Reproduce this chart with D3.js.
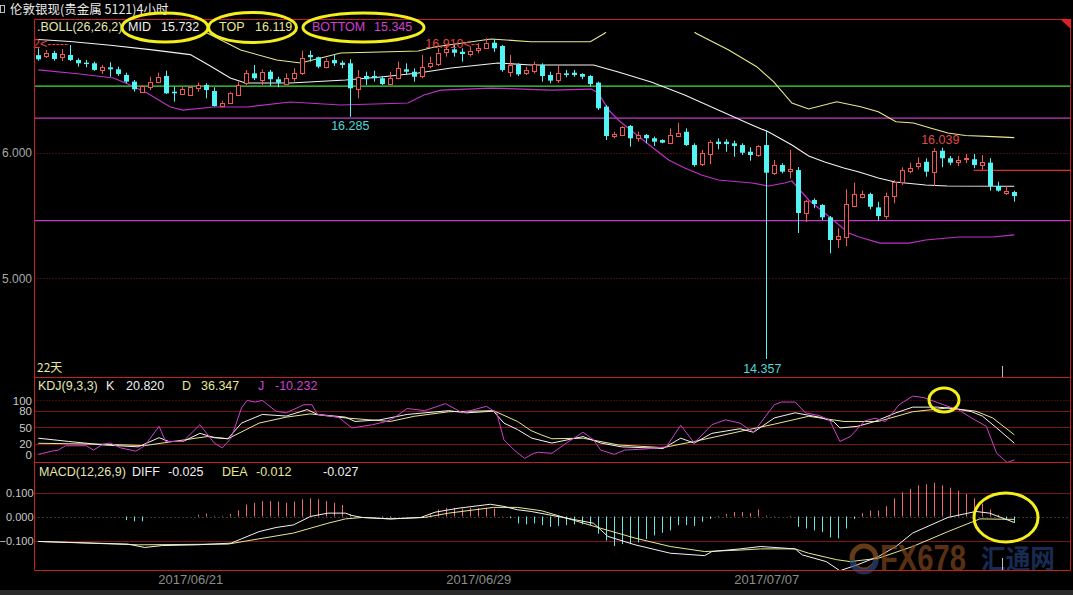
<!DOCTYPE html>
<html><head><meta charset="utf-8">
<script src="https://cdn.jsdelivr.net/npm/d3@7"></script>
<style>
html,body{margin:0;padding:0;background:#000;overflow:hidden;}
svg{display:block;}
text{font-family:"Liberation Sans",Arial,sans-serif;}
</style></head><body>
<svg id="c" width="1073" height="595"></svg>
<script>
// ---------------- DATA ----------------
const titleText = "伦敦银现(贵金属 5121)4小时";
// candles: [open, high, low, close] per 4h bar
const candles = [
[16.776,16.830,16.731,16.743],[16.769,16.817,16.753,16.795],[16.793,16.811,16.732,16.745],[16.761,16.825,16.729,16.785],
[16.777,16.857,16.729,16.737],[16.737,16.751,16.684,16.711],[16.716,16.737,16.679,16.705],[16.711,16.724,16.652,16.658],
[16.652,16.698,16.626,16.679],[16.679,16.719,16.604,16.663],[16.663,16.684,16.610,16.626],[16.618,16.636,16.552,16.565],
[16.565,16.578,16.485,16.504],[16.485,16.538,16.477,16.530],[16.525,16.604,16.498,16.565],[16.565,16.636,16.552,16.604],
[16.610,16.652,16.467,16.472],[16.485,16.525,16.405,16.472],[16.467,16.525,16.459,16.504],[16.459,16.530,16.451,16.525],
[16.512,16.557,16.485,16.538],[16.538,16.552,16.432,16.498],[16.490,16.520,16.366,16.371],[16.371,16.413,16.361,16.397],
[16.397,16.485,16.387,16.477],[16.459,16.565,16.451,16.538],[16.552,16.658,16.538,16.631],[16.631,16.698,16.578,16.592],
[16.584,16.663,16.538,16.644],[16.644,16.658,16.530,16.584],[16.584,16.604,16.520,16.557],[16.552,16.631,16.538,16.596],
[16.594,16.671,16.565,16.634],[16.631,16.811,16.618,16.751],[16.777,16.811,16.724,16.759],[16.759,16.764,16.671,16.684],
[16.684,16.751,16.671,16.732],[16.737,16.785,16.690,16.711],[16.716,16.732,16.671,16.698],[16.711,16.743,16.285,16.512],
[16.512,16.658,16.432,16.604],[16.610,16.644,16.538,16.584],[16.610,16.652,16.565,16.592],[16.592,16.610,16.538,16.546],
[16.546,16.644,16.538,16.592],[16.592,16.724,16.584,16.671],[16.663,16.711,16.618,16.644],[16.644,16.671,16.565,16.604],
[16.604,16.777,16.592,16.679],[16.690,16.764,16.671,16.716],[16.705,16.830,16.690,16.795],[16.795,16.857,16.764,16.822],
[16.822,16.857,16.764,16.795],[16.803,16.830,16.724,16.785],[16.785,16.843,16.764,16.811],[16.811,16.870,16.790,16.830],
[16.838,16.910,16.830,16.875],[16.875,16.905,16.803,16.830],[16.849,16.857,16.644,16.658],[16.644,16.777,16.604,16.698],
[16.698,16.711,16.610,16.623],[16.631,16.684,16.618,16.658],[16.644,16.724,16.631,16.703],[16.698,16.711,16.565,16.610],
[16.618,16.644,16.552,16.573],[16.573,16.698,16.554,16.631],[16.631,16.658,16.600,16.618],[16.636,16.658,16.604,16.618],
[16.626,16.631,16.584,16.604],[16.610,16.618,16.525,16.546],[16.557,16.565,16.339,16.353],[16.366,16.379,16.100,16.132],
[16.132,16.166,16.114,16.148],[16.140,16.212,16.132,16.206],[16.212,16.220,16.047,16.114],[16.114,16.166,16.087,16.140],
[16.140,16.148,16.074,16.114],[16.114,16.127,16.053,16.087],[16.100,16.106,16.074,16.079],[16.079,16.193,16.074,16.140],
[16.132,16.238,16.127,16.158],[16.166,16.193,16.053,16.060],[16.060,16.074,15.888,15.901],[15.909,16.021,15.893,15.994],
[15.994,16.100,15.909,16.087],[16.087,16.114,16.026,16.068],[16.087,16.106,16.007,16.068],[16.074,16.095,15.967,16.053],
[16.060,16.074,15.981,15.999],[16.007,16.042,15.935,15.981],[15.981,16.060,15.967,16.053],[16.060,16.180,14.357,15.840],
[15.840,15.941,15.822,15.901],[15.901,15.915,15.835,15.848],[15.854,16.021,15.795,15.867],[15.861,15.885,15.360,15.519],
[15.519,15.623,15.447,15.615],[15.623,15.636,15.557,15.591],[15.583,15.591,15.463,15.485],[15.485,15.495,15.198,15.304],
[15.310,15.397,15.240,15.336],[15.330,15.708,15.256,15.591],[15.575,15.760,15.565,15.670],[15.649,15.697,15.636,15.670],
[15.670,15.681,15.548,15.569],[15.564,15.609,15.458,15.495],[15.495,15.681,15.469,15.654],[15.654,15.782,15.596,15.768],
[15.768,15.883,15.742,15.861],[15.856,15.920,15.835,15.876],[15.888,15.962,15.867,15.915],[15.927,15.954,15.808,15.848],
[15.848,16.034,15.734,16.015],[16.015,16.039,15.883,15.955],[15.955,15.973,15.901,15.920],[15.928,15.973,15.893,15.941],
[15.947,15.989,15.915,15.955],[15.947,15.989,15.875,15.901],[15.901,15.981,15.861,15.927],[15.920,15.955,15.697,15.734],
[15.734,15.768,15.689,15.697],[15.678,15.734,15.663,15.694],[15.686,15.697,15.609,15.654]
];
// BOLL lines: [bar index, price]
const bollMid = [[0,16.90],[4,16.885],[9,16.855],[14,16.82],[19,16.78],[21.5,16.69],[24,16.594],[25.9,16.554],[31.5,16.554],
[38.4,16.578],[42.8,16.602],[47.5,16.634],[51.6,16.674],[57.5,16.713],[61.6,16.698],[69.4,16.698],[72.5,16.642],[76.6,16.562],
[80.8,16.459],[85,16.339],[89.2,16.220],[91.3,16.164],[94.2,16.060],[96.3,15.973],[98.3,15.925],[100.7,15.877],[102.6,15.846],
[105,15.798],[107.1,15.766],[110.9,15.742],[113.6,15.734],[122,15.732]];
const bollTop = [[20.3,16.976],[21.1,16.952],[25.3,16.817],[29.8,16.737],[32.8,16.713],[37.8,16.793],[47.5,16.809],[49.5,16.841],
[56.6,16.905],[61.6,16.883],[69,16.883],[70.8,16.950],[71.6,17.016],null,[81.5,17.00],[82.2,16.950],[86.3,16.817],[89.8,16.684],
[91.9,16.565],[94.2,16.395],[96.3,16.347],[99.8,16.405],[102.8,16.365],[105,16.326],[107.2,16.246],[109.4,16.236],[111.5,16.196],
[113.7,16.156],[115.9,16.136],[119.3,16.127],[122,16.119]];
const bollBot = [[0,16.658],[5.2,16.626],[9.4,16.594],[11.5,16.538],[13.6,16.475],[16.5,16.363],[18.1,16.339],[21.9,16.363],
[26.1,16.363],[31.5,16.403],[37.8,16.379],[46.2,16.395],[48.2,16.459],[50.3,16.498],[56.6,16.514],[64.1,16.498],[69.1,16.506],
[70,16.475],[71.3,16.339],[72.5,16.260],[74.5,16.156],[76.7,16.045],[78.8,15.941],[80.8,15.877],[82.9,15.822],[85,15.782],
[89.2,15.758],[91.3,15.734],[93.3,15.758],[94.2,15.774],[96.3,15.623],[99.2,15.471],[101.3,15.360],[102.6,15.328],[105.2,15.280],
[108.9,15.280],[110.9,15.304],[115.1,15.328],[119.3,15.328],[122,15.345]];
const bollLegend = {mid:"15.732", top:"16.119", bottom:"15.345"};
// horizontal drawn levels
const levelPrices = [16.530, 16.275, 15.459];
const redLevel = {price:15.858, fromBar:116.9};
const priceTicks = [16, 15];
// extreme labels
const markHigh = {bar:56, price:16.910};
const markLow1 = {bar:39, price:16.285};
const markLow2 = {bar:91, price:14.357};
const markHigh2 = {bar:113, price:16.039};
// KDJ [bar, value]
const kdjK = [[0,30],[3.8,24],[8.1,17.5],[12.5,14],[15.1,31],[16.3,24],[18.1,24],[20.2,39],[22,31],[23.7,29],[25.4,58],[28,74],
[31,71],[33.6,83],[34.9,74],[38.4,69],[39.6,61],[42.7,64],[46.1,74],[51.3,81],[53.5,77],[56.9,80],[58.2,58],[59.9,46],[61.7,30],
[64.2,21],[68.1,33],[70.3,21],[72.9,14],[78.1,11],[80.3,30],[82,21],[84.2,39],[87.7,47.5],[89.4,41],[92,67.5],[94.6,77],[97.6,69],
[99.4,61],[100.2,49],[102.4,52],[104.6,61],[107.2,77],[109.3,87.5],[112.4,87.5],[114.5,85],[116.7,79],[118,71],[119.8,49],[122,20.82]];
const kdjD = [[0,20.6],[8.1,18.8],[13.3,16.3],[16.8,23.8],[21.1,33],[23.7,29],[27.6,58],[31,69],[34,75],[38.4,67.5],[44,61],[47,70.6],
[51.3,79],[56.9,81],[59.9,61],[61.6,44],[62.9,36],[64.2,29],[68.1,30],[72.5,17.5],[78.1,12.5],[82,24],[87.7,42.5],[92,56],[96.3,70.6],
[100.7,61],[105,61],[109.3,79],[113.7,86],[117.2,80],[119.3,67.5],[122,36.35]];
const kdjJ = [[0,0],[1.7,6],[2.5,8],[3.4,16],[6,16],[6.9,8],[8.1,19],[9,21],[10.3,12],[12.2,6],[13.3,16],[15.1,52],[15.9,24],[18.1,24],
[20.2,55],[22,21],[23,12],[24.1,30],[25.4,86],[26.1,100],[27.1,97],[28,100],[29.7,80],[31,77],[33.2,92],[34.2,92],[34.9,74],[37.5,69],
[39.2,49],[41.8,55],[43.5,61],[44.4,67],[46.1,85],[48.3,81],[50.9,94],[53,77],[56,89],[57.3,77],[58.2,27],[59.5,8],[60.8,-7.5],[61.9,2],
[62.5,4],[64.2,2],[66,21],[68.1,41],[69.4,27],[70.3,8],[72,0],[73.3,8],[75.9,10],[78.5,14],[80.3,54],[82,21],[84.2,55],[85.9,64],
[87.7,58],[89.4,41],[92,92],[92.9,97],[94.6,97],[95.9,77],[97.6,72],[98.9,64],[100.2,24],[101.5,33],[103.3,62],[104.6,67],[105.9,61],
[107.6,92],[109.3,108],[110.7,105],[112.4,96],[113.7,89],[115,83],[116.7,67],[118.5,52],[119.8,2],[121.1,-15],[122,-10.23]];
const kdjTicks = [100, 80, 50, 20, 0];
const kdjLegend = {K:"20.820", D:"36.347", J:"-10.232"};
// MACD
const macdHist = [0,0,0,0,0,0,0,0,0,0,0,-0.015,-0.02,-0.02,0,0,0,0,0,0,
0.008,0.012,0.003,0.003,0.01,0.026,0.05,0.057,0.064,0.064,0.062,0.057,0.062,0.072,0.076,0.072,0.064,0.057,0.048,0.01,
0.002,0,0,-0.004,-0.004,0,0,0,0.002,0.01,0.029,0.036,0.036,0.033,0.036,0.036,0.036,0.033,0.002,-0.007,
-0.029,-0.033,-0.029,-0.036,-0.043,-0.039,-0.036,-0.033,-0.033,-0.036,-0.072,-0.101,-0.123,-0.115,-0.115,-0.108,-0.094,-0.079,-0.068,-0.058,
-0.036,-0.036,-0.039,-0.022,-0.01,-0.002,0.01,0.019,0.019,0.014,0.029,0.004,0.002,0.001,-0.002,-0.043,-0.05,-0.058,-0.065,-0.087,
-0.091,-0.05,-0.01,0.014,0.025,0.025,0.043,0.076,0.101,0.115,0.13,0.134,0.14,0.13,0.12,0.108,0.094,0.076,0.053,0.029,
0.007,-0.01,-0.027];
const macdDiff = [[0,-0.104],[11.2,-0.115],[13.3,-0.129],[15.5,-0.121],[19.8,-0.118],[24.1,-0.111],[25.4,-0.093],[27.6,-0.063],
[29.7,-0.046],[31.9,-0.035],[34,0],[36.2,0.014],[38.4,0.014],[39.2,0.004],[40.5,-0.004],[44,-0.01],[47.8,-0.004],[49.6,0.018],
[52.6,0.035],[56.5,0.051],[58.2,0.042],[59.9,0.028],[61.6,0.021],[69.4,-0.028],[71.2,-0.083],[74.6,-0.118],[79,-0.153],[83.3,-0.163],
[84.2,-0.146],[87.7,-0.135],[90.3,-0.125],[94.6,-0.135],[95.5,-0.16],[98.5,-0.188],[100.2,-0.226],[102.4,-0.201],[105,-0.167],
[107.2,-0.125],[109.3,-0.069],[113.7,-0.004],[117.2,0.021],[118.9,0.014],[122,-0.025]];
const macdDea = [[0,-0.104],[12.5,-0.118],[23.7,-0.115],[27.6,-0.093],[31.9,-0.069],[36.2,-0.028],[38.4,-0.01],[40.5,-0.004],[44,-0.01],
[48.3,-0.004],[51.3,0.014],[56.9,0.038],[59.9,0.038],[62.9,0.024],[70.3,-0.049],[74.6,-0.09],[79,-0.125],[83.3,-0.146],[87.7,-0.14],
[90.3,-0.135],[94.6,-0.135],[96.3,-0.153],[99.8,-0.18],[101.5,-0.188],[105,-0.174],[109.3,-0.125],[113.7,-0.063],[117.7,-0.01],[122,-0.012]];
const macdTicks = [0.1, 0, -0.1];
const macdLegend = {DIFF:"-0.025", DEA:"-0.012", MACD:"-0.027"};
// dates
const dateBars = [19, 55, 91];
const dateLabels = ["2017/06/21","2017/06/29","2017/07/07"];

// ---------------- STYLE / LAYOUT ----------------
const W=1073, H=595;
const L=34.5, R=1070.5, T=19.5, mainBot=377.5, kdjBot=462.5, macdBot=570.5;
const C_RED="#f25757", C_CYAN="#55f4f4", C_BORDER="#c81e1e", C_GRID="#7a1616";
const C_YEL="#e8e890", C_MAG="#d040d0", C_WHITE="#f2f2f2", C_GREEN="#3fe03f";

const svg=d3.select("#c");
svg.append("rect").attr("width",W).attr("height",H).attr("fill","#000");
svg.append("rect").attr("x",0).attr("y",590).attr("width",W).attr("height",5).attr("fill","#2a2a2a");

const x=d3.scaleLinear().domain([0,122]).range([38.3,1014.3]);
const yP=d3.scaleLinear().domain([15,16]).range([278.2,152.6]);
const yK=d3.scaleLinear().domain([0,100]).range([454.4,400.4]);
const yM=d3.scaleLinear().domain([-0.1,0.1]).range([540.5,492.5]);

const defs=svg.append("defs");
function clip(id,x0,y0,x1,y1){defs.append("clipPath").attr("id",id).append("rect").attr("x",x0).attr("y",y0).attr("width",x1-x0).attr("height",y1-y0);}
clip("cMain",35,32,1070,377);
clip("cKdj",35,378,1070,462.5);
clip("cMacd",35,463,1070,570);

// ---- grids ----
const grid=svg.append("g");
priceTicks.forEach(p=>grid.append("line").attr("x1",L).attr("x2",R).attr("y1",Math.round(yP(p))+0.5).attr("y2",Math.round(yP(p))+0.5)
  .attr("stroke","#8a1a1a").attr("stroke-dasharray","1,2"));
kdjTicks.forEach(v=>grid.append("line").attr("x1",L).attr("x2",R).attr("y1",Math.round(yK(v))+0.5).attr("y2",Math.round(yK(v))+0.5)
  .attr("stroke",C_GRID).attr("stroke-dasharray",(v===100||v===0)?"1,2":null));
macdTicks.forEach(v=>grid.append("line").attr("x1",L).attr("x2",R).attr("y1",Math.round(yM(v))+0.5).attr("y2",Math.round(yM(v))+0.5)
  .attr("stroke",v===0?"#6a6a6a":C_GRID).attr("stroke-dasharray",v===0?"1,3":null));

// ---- horizontal levels ----
const lvColors=[C_GREEN,"#c23cc2","#c23cc2"];
levelPrices.forEach((p,i)=>svg.append("line").attr("x1",L).attr("x2",R).attr("y1",yP(p)).attr("y2",yP(p))
  .attr("stroke",lvColors[i]).attr("stroke-width",1.3));
svg.append("line").attr("x1",x(redLevel.fromBar)).attr("x2",R).attr("y1",yP(redLevel.price)).attr("y2",yP(redLevel.price))
  .attr("stroke","#d83030").attr("stroke-width",1.3);

// ---- BOLL lines ----
const gm=svg.append("g").attr("clip-path","url(#cMain)");
const lineP=d3.line().defined(d=>d!=null).x(d=>x(d[0])).y(d=>yP(d[1]));
gm.append("path").attr("d",lineP(bollTop)).attr("fill","none").attr("stroke",C_YEL).attr("stroke-width",1.1);
gm.append("path").attr("d",lineP(bollMid)).attr("fill","none").attr("stroke",C_WHITE).attr("stroke-width",1.1);
gm.append("path").attr("d",lineP(bollBot)).attr("fill","none").attr("stroke","#c030c8").attr("stroke-width",1.2);

// ---- candles ----
candles.forEach((d,i)=>{
  const [o,h,l,c]=d; const px=Math.round(x(i)); const cx=px+0.5;
  const up=c>=o; const col=up?C_RED:C_CYAN;
  const yt=yP(Math.max(o,c)), yb=yP(Math.min(o,c));
  if(up){
    gm.append("line").attr("x1",cx).attr("x2",cx).attr("y1",yP(h)).attr("y2",yt).attr("stroke",col);
    gm.append("line").attr("x1",cx).attr("x2",cx).attr("y1",yb).attr("y2",yP(l)).attr("stroke",col);
    gm.append("rect").attr("x",px-1.5).attr("y",Math.round(yt)+0.5).attr("width",4).attr("height",Math.max(1,Math.round(yb-yt)))
      .attr("fill","#000").attr("stroke",col);
  } else {
    gm.append("line").attr("x1",cx).attr("x2",cx).attr("y1",yP(h)).attr("y2",yP(l)).attr("stroke",col);
    gm.append("rect").attr("x",px-2).attr("y",yt).attr("width",5).attr("height",Math.max(1.2,yb-yt)).attr("fill",col);
  }
});

// ---- extreme labels ----
const lab=svg.append("g").style("font-size","12.5px");
lab.append("text").attr("x",x(markLow1.bar)).attr("y",yP(markLow1.price)+13).attr("text-anchor","middle").attr("fill","#4fd6d6").text(markLow1.price.toFixed(3));
lab.append("text").attr("x",x(markLow2.bar)-4).attr("y",yP(markLow2.price)+14).attr("text-anchor","middle").attr("fill","#4fd6d6").text(markLow2.price.toFixed(3));
lab.append("text").attr("x",x(markHigh2.bar)-2).attr("y",yP(markHigh2.price)-4).attr("text-anchor","middle").attr("fill","#e04848").text(markHigh2.price.toFixed(3));
lab.append("text").attr("x",x(markHigh.bar)-61).attr("y",yP(markHigh.price)+10).attr("fill","#e04848").text(markHigh.price.toFixed(3)+"<--");
lab.append("text").attr("x",33).attr("y",48).attr("fill","#e04848").text("2<-----");

// ---- KDJ ----
const gk=svg.append("g").attr("clip-path","url(#cKdj)");
const lineK=d3.line().x(d=>x(d[0])).y(d=>yK(d[1]));
gk.append("path").attr("d",lineK(kdjD)).attr("fill","none").attr("stroke",C_YEL).attr("stroke-width",1);
gk.append("path").attr("d",lineK(kdjK)).attr("fill","none").attr("stroke",C_WHITE).attr("stroke-width",1);
gk.append("path").attr("d",lineK(kdjJ)).attr("fill","none").attr("stroke",C_MAG).attr("stroke-width",1);

// ---- MACD ----
const gmc=svg.append("g").attr("clip-path","url(#cMacd)");
macdHist.forEach((v,i)=>{ if(Math.abs(v)<0.0015) return;
  const cx=Math.round(x(i))+0.5;
  gmc.append("line").attr("x1",cx).attr("x2",cx).attr("y1",yM(0)).attr("y2",yM(v)).attr("stroke",v>0?"#f06a6a":"#5ee8e8");
});
const lineM=d3.line().x(d=>x(d[0])).y(d=>yM(d[1]));
gmc.append("path").attr("d",lineM(macdDea)).attr("fill","none").attr("stroke",C_YEL).attr("stroke-width",1);
gmc.append("path").attr("d",lineM(macdDiff)).attr("fill","none").attr("stroke",C_WHITE).attr("stroke-width",1);

// watermark
const wm=svg.append("g").attr("opacity",0.65);
wm.append("circle").attr("cx",864).attr("cy",558).attr("r",12).attr("fill","none").attr("stroke","#9a5a24").attr("stroke-width",5);
wm.append("path").attr("d","M852,560 A12,12 0 0 0 876,560").attr("fill","none").attr("stroke","#2c4c8c").attr("stroke-width",5);
wm.append("text").attr("x",880).attr("y",571).attr("textLength",86).attr("lengthAdjust","spacingAndGlyphs")
  .style("font-size","36px").style("font-weight","bold").attr("fill","#8a4a1e").text("FX678");
wm.append("text").attr("x",981).attr("y",569).attr("textLength",74).attr("lengthAdjust","spacingAndGlyphs")
  .style("font-size","27px").style("font-weight","bold").style("font-family","'Noto Sans CJK SC'").attr("fill","#26427e").text("汇通网");

// ---- frames ----
const fr=svg.append("g").attr("stroke",C_BORDER).attr("fill","none");
[T,mainBot,kdjBot,macdBot].forEach(yy=>fr.append("line").attr("x1",L).attr("x2",R).attr("y1",yy).attr("y2",yy));
fr.append("line").attr("x1",L).attr("x2",L).attr("y1",T).attr("y2",macdBot);
fr.append("line").attr("x1",R).attr("x2",R).attr("y1",T).attr("y2",macdBot);
svg.append("path").attr("d","M1060,19 L1071,19 L1071,29 Z").attr("fill","#e02020");

// cursor marks
svg.append("line").attr("x1",1002.5).attr("x2",1002.5).attr("y1",366).attr("y2",377).attr("stroke","#bdbdbd");
svg.append("line").attr("x1",1002.5).attr("x2",1002.5).attr("y1",558).attr("y2",570).attr("stroke","#bdbdbd");

// ---- axes ----
function styleAxis(g,size,col){g.select(".domain").remove();g.selectAll("text").attr("fill",col).style("font-size",size).style("font-family","'Liberation Sans',Arial,sans-serif");}
// the price column is narrow: only the last five characters of each price label are visible
svg.append("g").attr("transform","translate(32,0)")
  .call(d3.axisLeft(yP).tickValues(priceTicks).tickSize(0).tickPadding(0).tickFormat(d=>d3.format(".3f")(d).slice(-5)))
  .call(g=>styleAxis(g,"12px","#a8a8a8"));
svg.append("g").attr("transform","translate(32,0)")
  .call(d3.axisLeft(yK).tickValues(kdjTicks).tickSize(0).tickPadding(0).tickFormat(d3.format("d")))
  .call(g=>styleAxis(g,"11.5px","#c8c8c8"));
svg.append("g").attr("transform","translate(33.5,0)")
  .call(d3.axisLeft(yM).tickValues(macdTicks).tickSize(0).tickPadding(0).tickFormat(d3.format(".3f")))
  .call(g=>styleAxis(g,"11px","#c8c8c8"));
svg.append("g").attr("transform","translate(0,575)")
  .call(d3.axisBottom(x).tickValues(dateBars).tickSize(0).tickPadding(0).tickFormat((d,i)=>dateLabels[i]))
  .call(g=>styleAxis(g,"13px","#8c8c8c"));

// ---- legends & title ----
const tx=(xx,yy,t,col,sz,fam)=>svg.append("text").attr("x",xx).attr("y",yy).attr("fill",col).style("font-size",sz||"12.5px")
  .style("font-family",fam||"'Liberation Sans',Arial,sans-serif").text(t);
svg.append("rect").attr("x",0.5).attr("y",5.5).attr("width",4).attr("height",7).attr("fill","none").attr("stroke","#bbb");
tx(10,14,titleText,"#e8e8e8","12.5px","'Noto Sans CJK SC'");
tx(37,31,".BOLL(26,26,2)","#e6e6b0");
tx(128,31,"MID","#f0f0f0"); tx(161,31,bollLegend.mid,"#f0f0f0");
tx(219,31,"TOP",C_YEL); tx(255,31,bollLegend.top,C_YEL);
tx(312,31,"BOTTOM",C_MAG); tx(374,31,bollLegend.bottom,C_MAG);
tx(37,372,"22天","#e6e6a0","12px","'Noto Sans CJK SC'");
tx(38,390,"KDJ(9,3,3)","#e6e6b0"); tx(106,390,"K","#f0f0f0"); tx(126,390,kdjLegend.K,"#f0f0f0");
tx(182,390,"D",C_YEL); tx(201,390,kdjLegend.D,C_YEL); tx(258,390,"J",C_MAG); tx(275,390,kdjLegend.J,C_MAG);
tx(39,476,"MACD(12,26,9)","#e6e6b0"); tx(132,476,"DIFF","#f0f0f0"); tx(168,476,macdLegend.DIFF,"#f0f0f0");
tx(222,476,"DEA",C_YEL); tx(256,476,macdLegend.DEA,C_YEL); tx(323,476,macdLegend.MACD,"#f0f0f0");

// ---- highlight ellipses ----
const el=svg.append("g").attr("fill","none").attr("stroke","#f4ee1c").attr("stroke-width",3);
[[165,27.5,43,14.5],[252.5,27.5,44,15],[363.5,27.5,60.5,14.5],[944,400,15,12],[1006,517.5,32,24.5]]
  .forEach(e=>el.append("ellipse").attr("cx",e[0]).attr("cy",e[1]).attr("rx",e[2]).attr("ry",e[3]));
</script>
</body></html>
